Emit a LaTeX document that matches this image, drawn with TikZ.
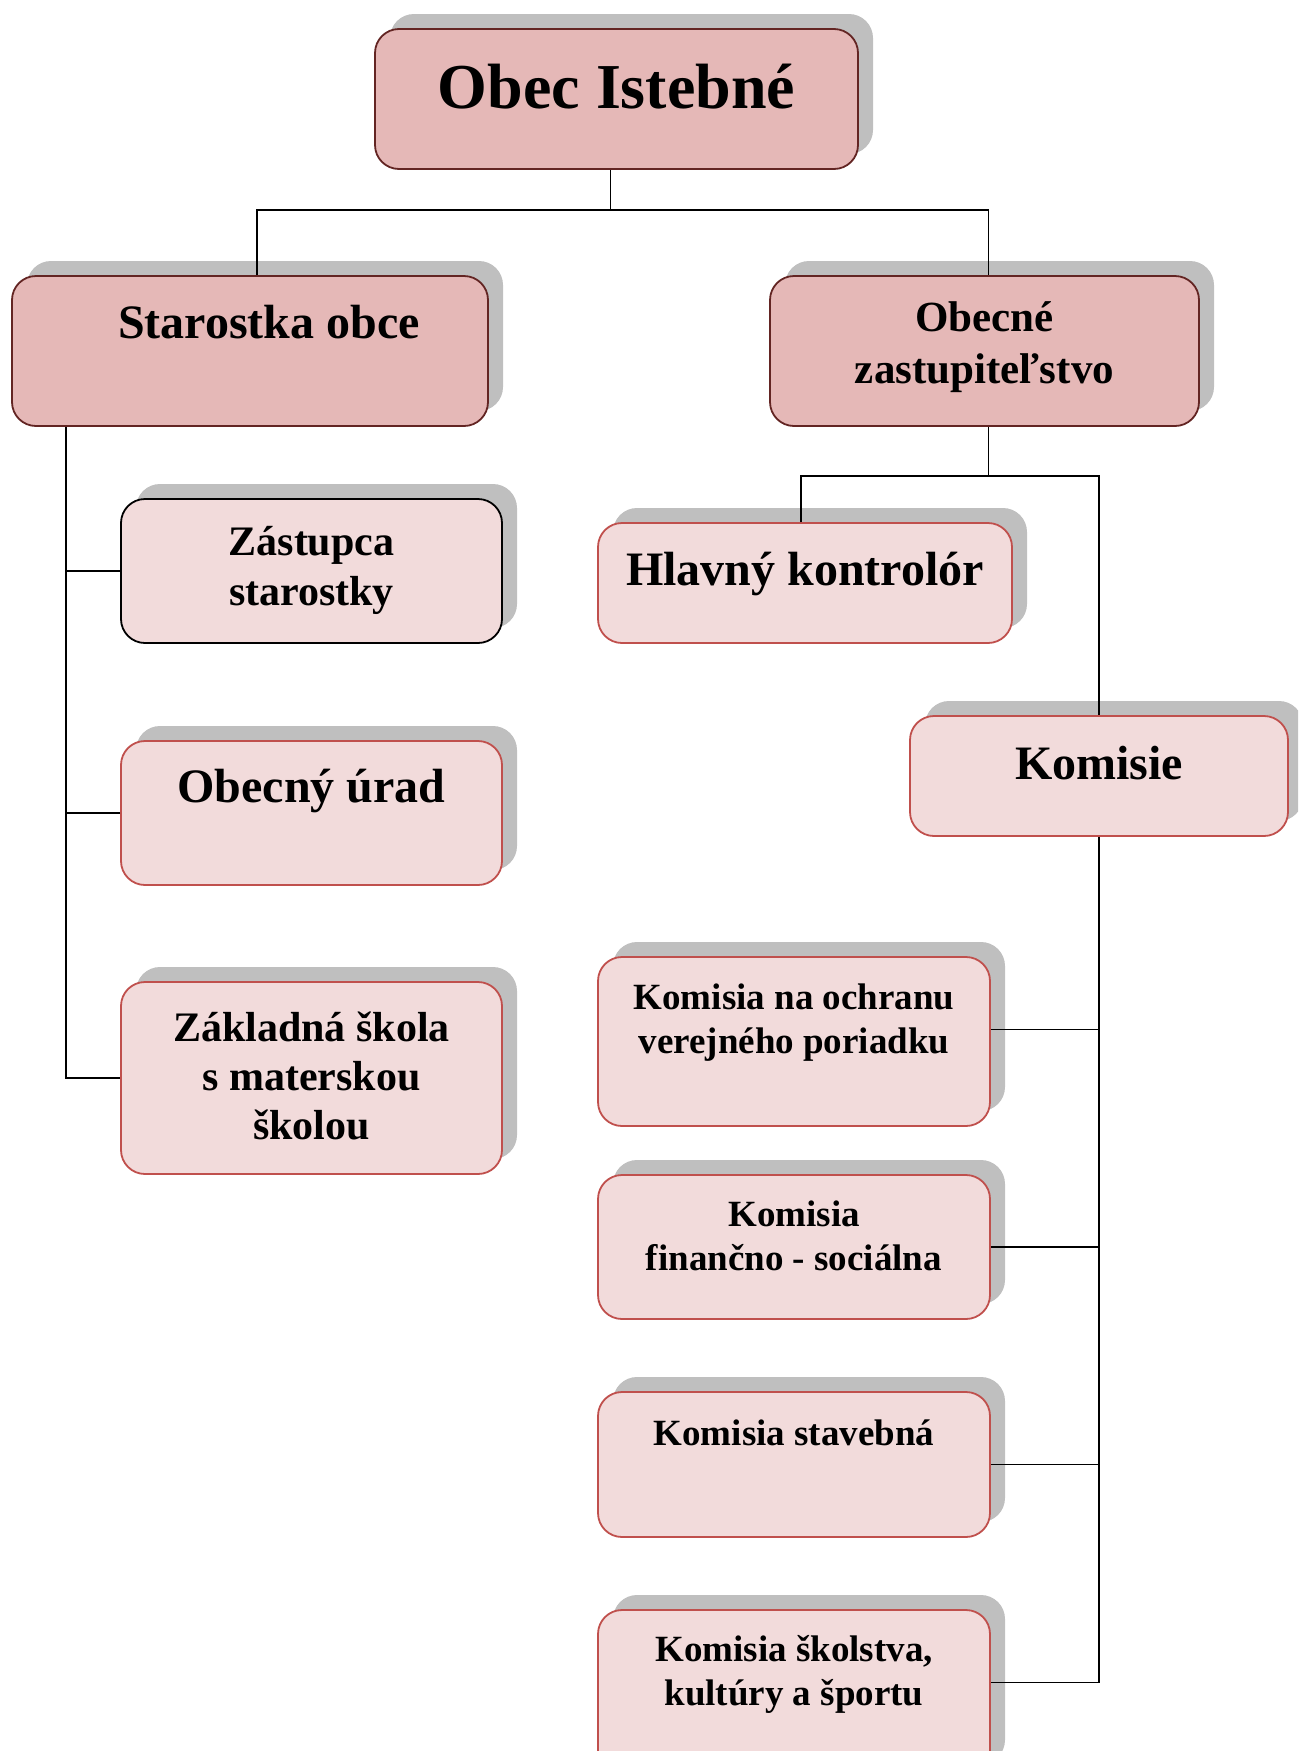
\documentclass[tikz,border=0pt]{standalone}
\usepackage{fontspec}
\setmainfont{Liberation Serif}
\usetikzlibrary{shadows}

\definecolor{headfill}{HTML}{E5B8B7}
\definecolor{headline}{HTML}{632523}
\definecolor{unitfill}{HTML}{F2DBDB}
\definecolor{unitline}{HTML}{C0504D}
\definecolor{shadowgray}{HTML}{BFBFBF}

\newcommand{\boxfont}[2]{\fontsize{#1}{#2}\selectfont\bfseries}

\tikzset{
  orgbox/.style={rectangle, rounded corners=12pt, line width=0.9pt, inner sep=0pt,
    drop shadow={shadow xshift=7.5pt, shadow yshift=7.5pt, fill=shadowgray, opacity=1}},
  headbox/.style={orgbox, draw=headline, fill=headfill},
  unitbox/.style={orgbox, draw=unitline, fill=unitfill},
  boxtext/.style={anchor=base, align=center, inner sep=0pt},
  link/.style={line width=0.9pt}
}

\begin{document}
\begin{tikzpicture}[x=0.5pt, y=-0.5pt]
    \useasboundingbox (0,0) rectangle (1298,1751);
    \clip (0,0) rectangle (1298,1751);

    % boxes
    \node[headbox, minimum width=241.5pt, minimum height=70pt] (obec) at (616.5, 99) {};
    \node[headbox, minimum width=238pt, minimum height=75pt] (staro) at (250, 351) {};
    \node[headbox, minimum width=214.5pt, minimum height=75pt] (zast) at (984.5, 351) {};

    \node[unitbox, draw=black, minimum width=190.5pt, minimum height=72pt] (zastupca) at (311.5, 571) {};
    \node[unitbox, minimum width=190.5pt, minimum height=72pt] (urad) at (311.5, 813) {};
    \node[unitbox, minimum width=190.5pt, minimum height=96pt] (skola) at (311.5, 1078) {};

    \node[unitbox, minimum width=207pt, minimum height=60pt] (kontrolor) at (805, 583) {};
    \node[unitbox, minimum width=189pt, minimum height=60pt] (komisie) at (1099, 776) {};

    \node[unitbox, minimum width=196pt, minimum height=84.5pt] (kom1) at (794, 1041.5) {};
    \node[unitbox, minimum width=196pt, minimum height=72pt] (kom2) at (794, 1247) {};
    \node[unitbox, minimum width=196pt, minimum height=72.5pt] (kom3) at (794, 1464.5) {};
    \node[unitbox, minimum width=196pt, minimum height=84.5pt] (kom4) at (794, 1694.5) {};

    % texts (base = last line)
    \node[boxtext, font=\boxfont{32}{38}] (obec-txt) at (616.5, 108) {Obec Istebné};
    \node[boxtext, font=\boxfont{24}{29}] (staro-txt) at (269, 338) {Starostka obce};
    \node[boxtext, font=\boxfont{21.5}{26}] (zast-txt) at (984.5, 383) {Obecné\\zastupiteľstvo};
    \node[boxtext, font=\boxfont{21}{25}] (zastupca-txt) at (311.5, 605) {Zástupca\\starostky};
    \node[boxtext, font=\boxfont{24}{29}] (urad-txt) at (311.5, 802) {Obecný úrad};
    \node[boxtext, font=\boxfont{21}{24.5}] (skola-txt) at (311.5, 1139) {Základná škola\\s materskou\\školou};
    \node[boxtext, font=\boxfont{24}{29}] (kontrolor-txt) at (805, 585) {Hlavný kontrolór};
    \node[boxtext, font=\boxfont{24}{29}] (komisie-txt) at (1099, 779) {Komisie};
    \node[boxtext, font=\boxfont{18.5}{22}] (kom1-txt) at (794, 1053) {Komisia na ochranu\\verejného poriadku};
    \node[boxtext, font=\boxfont{18.5}{22}] (kom2-txt) at (794, 1270) {Komisia\\finančno - sociálna};
    \node[boxtext, font=\boxfont{18.5}{22}] (kom3-txt) at (794, 1445) {Komisia stavebná};
    \node[boxtext, font=\boxfont{18.5}{22}] (kom4-txt) at (794, 1705) {Komisia školstva,\\kultúry a športu};

    % connectors
    \draw[link] ([xshift=-3pt]obec.south) -- ++(0, 40) coordinate (top-bus);
    \draw[link] ([xshift=3.5pt]staro.north) |- (top-bus) -| ([xshift=2pt]zast.north);

    \draw[link] ([xshift=2pt]zast.south) -- ++(0, 49) coordinate (zast-bus);
    \draw[link] ([xshift=-2pt]kontrolor.north) |- (zast-bus) -| (komisie.north);

    \coordinate (left-bus) at ([xshift=27.5pt]staro.south west);
    \draw[link] (left-bus) |- (skola.west);
    \draw[link] (zastupca.west) -- (zastupca.west -| left-bus);
    \draw[link] (urad.west) -- (urad.west -| left-bus);

    \draw[link] (komisie.south) |- ([yshift=6pt]kom4.east);
    \draw[link] ([yshift=6pt]kom1.east) -- ([yshift=6pt]kom1.east -| komisie.south);
    \draw[link] (kom2.east) -- (kom2.east -| komisie.south);
    \draw[link] (kom3.east) -- (kom3.east -| komisie.south);
\end{tikzpicture}
\end{document}
